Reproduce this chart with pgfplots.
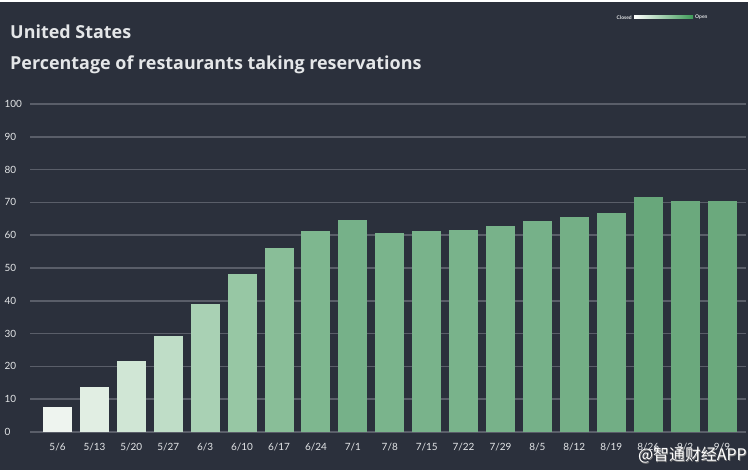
\documentclass[border=0pt]{standalone}
\usepackage{pgfplots}
\pgfplotsset{compat=1.18}
\usepackage{fontspec}
\setmainfont{Lato}
\newfontfamily\titlefont{Open Sans}
\newfontfamily\cjk{Noto Sans CJK SC}
\definecolor{bg}{HTML}{2B303C}
\definecolor{gridc}{HTML}{5A5E69}
\definecolor{txt}{HTML}{E4E6E8}
\definecolor{legG}{HTML}{3E9A58}
% bar shades, light to dark
\definecolor{b0}{HTML}{EEF4EF}
\definecolor{b1}{HTML}{E1EEE3}
\definecolor{b2}{HTML}{D0E6D5}
\definecolor{b3}{HTML}{BFDDC7}
\definecolor{b4}{HTML}{A9D1B4}
\definecolor{b5}{HTML}{97C7A4}
\definecolor{b6}{HTML}{89BE98}
\definecolor{b7}{HTML}{7EB78F}
\definecolor{b8}{HTML}{76B189}
\definecolor{b9}{HTML}{7AB48C}
\definecolor{b10}{HTML}{79B38B}
\definecolor{b11}{HTML}{79B38B}
\definecolor{b12}{HTML}{78B28A}
\definecolor{b13}{HTML}{76B189}
\definecolor{b14}{HTML}{74AF86}
\definecolor{b15}{HTML}{72AE85}
\definecolor{b16}{HTML}{68A77B}
\definecolor{b17}{HTML}{6BA97D}
\definecolor{b18}{HTML}{6BA97D}
\newcommand\onebar[2]{\addplot[fill=b#1, draw=none] coordinates {(#1,#2)};}
\begin{document}
\begin{tikzpicture}
\fill[white] (-30bp,-43bp) rectangle (722bp,432bp);
\fill[bg] (-30bp,-38bp) rectangle (718bp,430bp);
\begin{axis}[
    scale only axis,
    width=716bp, height=328bp,
    xmin=-0.745, xmax=18.65,
    ymin=0, ymax=100,
    ybar, bar width=29bp, bar shift=0pt,
    axis line style={draw=none},
    ymajorgrids, grid style={gridc, line width=1.5bp},
    ytick={0,10,...,100},
    xtick={0,...,18},
    xticklabels={5/6,5/13,5/20,5/27,6/3,6/10,6/17,6/24,7/1,7/8,7/15,7/22,7/29,8/5,8/12,8/19,8/26,9/2,9/9},
    major tick length=0pt,
    ticklabel style={font=\fontsize{10}{12}\selectfont, text=txt},
    xticklabel style={yshift=-8bp},
    yticklabel style={anchor=west, xshift=-29bp},
    /pgf/number format/assume math mode=true,
    clip=false,
]
\onebar{0}{7.6}
\onebar{1}{13.7}
\onebar{2}{21.6}
\onebar{3}{29.3}
\onebar{4}{39.0}
\onebar{5}{48.2}
\onebar{6}{56.1}
\onebar{7}{61.3}
\onebar{8}{64.6}
\onebar{9}{60.7}
\onebar{10}{61.3}
\onebar{11}{61.6}
\onebar{12}{62.8}
\onebar{13}{64.3}
\onebar{14}{65.5}
\onebar{15}{66.8}
\onebar{16}{71.6}
\onebar{17}{70.4}
\onebar{18}{70.4}
\end{axis}
% titles
\node[anchor=base west, inner sep=0, text=txt, font=\titlefont\bfseries\fontsize{18}{20}\selectfont] at (-20bp,393bp) {United States};
\node[anchor=base west, inner sep=0, text=txt, font=\titlefont\bfseries\fontsize{18}{20}\selectfont] at (-20bp,362bp) {Percentage of restaurants taking reservations};
% colour legend
\shade[left color=white, right color=legG] (604bp,413bp) rectangle (663bp,416bp);
\node[anchor=east, inner sep=1bp, text=txt, font=\bfseries\fontsize{5}{6}\selectfont] at (603bp,414.5bp) {Closed};
\node[anchor=west, inner sep=1bp, text=txt, font=\bfseries\fontsize{5}{6}\selectfont] at (664bp,414.5bp) {Open};
% watermark
\node[anchor=east, inner sep=0, text=gray, font=\cjk\fontsize{16}{18}\selectfont] at (717.7bp,-23.7bp) {@智通财经APP};
\node[anchor=east, inner sep=0, text=white, font=\cjk\fontsize{16}{18}\selectfont] at (717bp,-23bp) {@智通财经APP};
\end{tikzpicture}
\end{document}
